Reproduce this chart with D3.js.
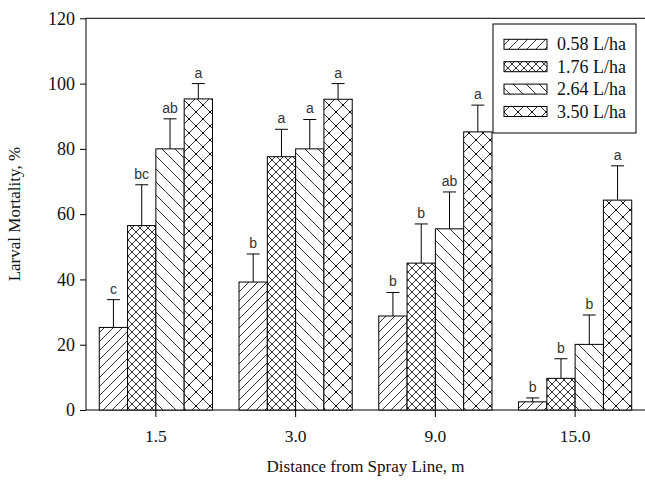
<!DOCTYPE html>
<html><head><meta charset="utf-8">
<script src="https://cdn.jsdelivr.net/npm/d3@7/dist/d3.min.js"></script>
<style>body{margin:0;background:#fff}svg{display:block}</style>
</head><body>
<svg id="c" width="645" height="480"></svg>
<script>
const categories = ["1.5", "3.0", "9.0", "15.0"];
const seriesNames = ["0.58 L/ha", "1.76 L/ha", "2.64 L/ha", "3.50 L/ha"];
const s058 = [25.3, 39.2, 28.8, 2.5];
const s176 = [56.5, 77.6, 45.0, 9.7];
const s264 = [80.0, 80.0, 55.5, 20.1];
const s350 = [95.3, 95.2, 85.2, 64.3];
const e058 = [8.5, 8.6, 7.2, 1.2];
const e176 = [12.5, 8.4, 12.0, 6.0];
const e264 = [9.2, 9.0, 11.3, 9.0];
const e350 = [4.7, 4.8, 8.2, 10.5];
const l058 = ["c", "b", "b", "b"];
const l176 = ["bc", "a", "b", "b"];
const l264 = ["ab", "a", "ab", "b"];
const l350 = ["a", "a", "a", "a"];
const yTicks = [0, 20, 40, 60, 80, 100, 120];

const values = [s058, s176, s264, s350];
const errs = [e058, e176, e264, e350];
const letters = [l058, l176, l264, l350];

const svg = d3.select("#c");
const L = 86, R = 645, T = 18.3, B = 410;
const serif = "Liberation Serif, Times New Roman, serif";
const x = d3.scaleBand().domain(categories).range([L, R]).paddingInner(0.19).paddingOuter(0.095);
const xs = d3.scaleBand().domain(d3.range(4)).range([0, x.bandwidth()]);
const y = d3.scaleLinear().domain([0, 120]).range([B, T]);

// patterns
const defs = svg.append("defs");
function linesPattern(id, size, dirs, dots) {
  const p = defs.append("pattern").attr("id", id).attr("patternUnits", "userSpaceOnUse")
    .attr("width", size).attr("height", size);
  p.append("rect").attr("width", size).attr("height", size).attr("fill", "#fff");
  dirs.forEach(d => {
    if (d === "/") {
      p.append("path").attr("d", `M0,${size} L${size},0 M${-size/2},${size/2} L${size/2},${-size/2} M${size/2},${size*1.5} L${size*1.5},${size/2}`)
        .attr("stroke", "#000").attr("stroke-width", 0.8);
    } else {
      p.append("path").attr("d", `M0,0 L${size},${size} M${-size/2},${size/2} L${size/2},${size*1.5} M${size/2},${-size/2} L${size*1.5},${size/2}`)
        .attr("stroke", "#000").attr("stroke-width", 0.8);
    }
  });
  if (dots) {
    [[0,0],[size,0],[0,size],[size,size],[size/2,size/2]].forEach(([cx,cy]) =>
      p.append("circle").attr("cx", cx).attr("cy", cy).attr("r", 1.1).attr("fill", "#000"));
  }
}
linesPattern("p0", 9, ["/"], false);
linesPattern("p1", 8, ["/", "\\"], false);
linesPattern("p2", 13, ["\\"], false);
linesPattern("p3", 14, ["/", "\\"], true);

// axes lines
svg.append("line").attr("x1", L).attr("x2", R).attr("y1", T).attr("y2", T).attr("stroke", "#000");
svg.append("line").attr("x1", L).attr("x2", R).attr("y1", B).attr("y2", B).attr("stroke", "#000");

const yAxis = svg.append("g").attr("transform", `translate(${L},0)`)
  .call(d3.axisLeft(y).tickValues(yTicks).tickSize(6).tickPadding(5).tickFormat(d3.format("d")));
yAxis.select(".domain").attr("d", `M0,${T}V${B}`);
yAxis.selectAll("text").attr("font-family", serif).attr("font-size", 18).attr("fill", "#111");

const xAxis = svg.append("g").attr("transform", `translate(0,${B})`)
  .call(d3.axisBottom(x).tickSize(7).tickPadding(13));
xAxis.select(".domain").remove();
xAxis.selectAll("text").attr("font-family", serif).attr("font-size", 17.5).attr("fill", "#111");

// bars
values.forEach((vals, si) => {
  const g = svg.append("g");
  categories.forEach((c, ci) => {
    const x0 = x(c) + xs(si);
    const w = xs.bandwidth();
    const v = vals[ci], e = errs[si][ci];
    const cx = x0 + w / 2;
    g.append("line").attr("x1", cx).attr("x2", cx).attr("y1", y(v)).attr("y2", y(v + e)).attr("stroke", "#000");
    g.append("line").attr("x1", cx - 6.5).attr("x2", cx + 6.5).attr("y1", y(v + e)).attr("y2", y(v + e)).attr("stroke", "#000");
    g.append("rect").attr("x", x0).attr("y", y(v)).attr("width", w).attr("height", y(0) - y(v))
      .attr("fill", `url(#p${si})`).attr("stroke", "#000").attr("stroke-width", 1);
    g.append("text").attr("x", cx).attr("y", y(v + e) - 6).attr("text-anchor", "middle")
      .attr("font-family", "Liberation Sans, Arial, sans-serif").attr("font-size", 14).attr("fill", "#333")
      .text(letters[si][ci]);
  });
});

// axis titles
svg.append("text").attr("transform", `translate(20,${(T + B) / 2}) rotate(-90)`).attr("text-anchor", "middle")
  .attr("font-family", serif).attr("font-size", 17).attr("fill", "#111")
  .text("Larval Mortality, %");
svg.append("text").attr("x", (L + R) / 2).attr("y", 472).attr("text-anchor", "middle")
  .attr("font-family", serif).attr("font-size", 17).attr("fill", "#111")
  .text("Distance from Spray Line, m");

// legend
const lg = svg.append("g");
lg.append("rect").attr("x", 493).attr("y", 24).attr("width", 143).attr("height", 109).attr("fill", "#fff").attr("stroke", "#000");
seriesNames.forEach((n, i) => {
  const cy = 44.3 + i * 22.4;
  lg.append("rect").attr("x", 504).attr("y", cy - 5).attr("width", 43).attr("height", 10)
    .attr("fill", `url(#p${i})`).attr("stroke", "#000");
  lg.append("text").attr("x", 557).attr("y", cy + 6).attr("font-family", serif)
    .attr("font-size", 18).attr("fill", "#111").text(n);
});
</script>
</body></html>
